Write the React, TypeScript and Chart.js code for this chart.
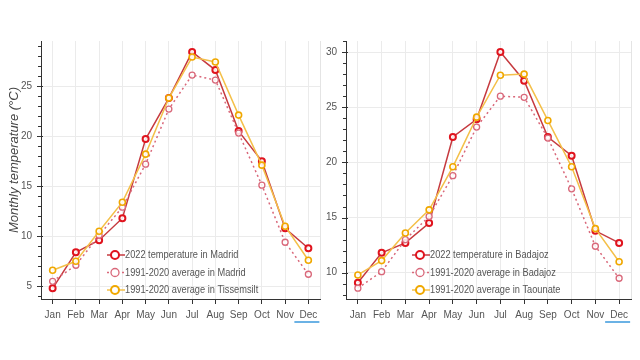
import React, { useEffect, useRef } from "react";
import { Chart, registerables } from "chart.js";
Chart.register(...registerables);

const months = ["Jan", "Feb", "Mar", "Apr", "May", "Jun", "Jul", "Aug", "Sep", "Oct", "Nov", "Dec"];

const madrid2022 = [4.8, 8.4, 9.6, 11.8, 19.7, 23.8, 28.4, 26.6, 20.5, 17.5, 10.8, 8.8];
const madridAvg = [5.5, 7.1, 10.1, 12.9, 17.2, 22.7, 26.1, 25.6, 20.3, 15.1, 9.4, 6.2];
const tissemsiltAvg = [6.6, 7.5, 10.5, 13.4, 18.2, 23.8, 27.9, 27.4, 22.1, 17.1, 11.0, 7.6];

const badajoz2022 = [9.1, 11.8, 12.7, 14.5, 22.3, 23.9, 30.0, 27.4, 22.3, 20.6, 13.8, 12.7];
const badajozAvg = [8.6, 10.1, 13.0, 15.1, 18.8, 23.2, 26.0, 25.9, 22.2, 17.6, 12.4, 9.5];
const taounateAvg = [9.8, 11.1, 13.6, 15.7, 19.6, 24.1, 27.9, 28.0, 23.8, 19.6, 14.0, 11.0];

const leftLabels = ["2022 temperature in Madrid", "1991-2020 average in Madrid", "1991-2020 average in Tissemsilt"];
const rightLabels = ["2022 temperature in Badajoz", "1991-2020 average in Badajoz", "1991-2020 average in Taounate"];
const yTitle = "Monthly temperature (°C)";

const FONT = "'Liberation Sans', Arial, Helvetica, sans-serif";

const RED_LINE = "#c63a3f";
const RED_MARK = "#e0141e";
const PINK = "#d9687a";
const YEL_LINE = "#f4c04a";
const YEL_MARK = "#f0a800";

type Opts = {
  values: number[][];
  labels: string[];
  yMin: number;
  yMax: number;
  axisWidth: number;
  padRight: number;
  legendX: number;
  showTitle: boolean;
};

function makeChart(canvas: HTMLCanvasElement, o: Opts) {
  const styles = [
    { line: RED_LINE, mark: RED_MARK, dash: [] as number[], bw: 2 },
    { line: PINK, mark: PINK, dash: [2, 3], bw: 1.3 },
    { line: YEL_LINE, mark: YEL_MARK, dash: [] as number[], bw: 1.6 },
  ];
  const decor = {
    id: "decor",
    afterDraw(chart: any) {
      const ctx = chart.ctx as CanvasRenderingContext2D;
      const ys = chart.scales.y;
      const xs = chart.scales.x;
      const ca = chart.chartArea;
      ctx.save();
      ctx.strokeStyle = "#e4e4e4";
      ctx.lineWidth = 1;
      ctx.beginPath();
      ctx.moveTo(ca.right + 0.5, ca.top);
      ctx.lineTo(ca.right + 0.5, ca.bottom);
      ctx.stroke();
      ctx.strokeStyle = "#333";
      for (let v = Math.ceil(o.yMin); v <= Math.floor(o.yMax); v++) {
        const y = Math.round(ys.getPixelForValue(v)) + 0.5;
        ctx.beginPath();
        if (v % 5 === 0) {
          ctx.moveTo(ca.left - 4, y);
          ctx.lineTo(ca.left + 2, y);
        } else {
          ctx.moveTo(ca.left - 3, y);
          ctx.lineTo(ca.left, y);
        }
        ctx.stroke();
      }
      const dx = xs.getPixelForValue(11);
      ctx.strokeStyle = "#3a98dc";
      ctx.lineWidth = 1.5;
      ctx.beginPath();
      ctx.moveTo(dx - 14, ca.bottom + 23);
      ctx.lineTo(dx + 11, ca.bottom + 23);
      ctx.stroke();
      const rows = [255, 272.5, 290];
      rows.forEach((ry, i) => {
        const s = styles[i];
        ctx.strokeStyle = s.line;
        ctx.lineWidth = 1.5;
        ctx.setLineDash(s.dash);
        ctx.beginPath();
        ctx.moveTo(o.legendX - 8, ry);
        ctx.lineTo(o.legendX + 10, ry);
        ctx.stroke();
        ctx.setLineDash([]);
        ctx.beginPath();
        ctx.arc(o.legendX, ry, 4, 0, Math.PI * 2);
        ctx.fillStyle = "#fff";
        ctx.fill();
        ctx.strokeStyle = s.mark;
        ctx.lineWidth = i === 1 ? 1.3 : 2;
        ctx.stroke();
        ctx.save();
        ctx.translate(o.legendX + 10, ry);
        ctx.scale(0.88, 1);
        ctx.fillStyle = "#555";
        ctx.font = `10.5px ${FONT}`;
        ctx.textBaseline = "middle";
        ctx.textAlign = "left";
        ctx.fillText(o.labels[i], 0, 0.5);
        ctx.restore();
      });
      if (o.showTitle) {
        ctx.save();
        ctx.translate(14, 160);
        ctx.rotate(-Math.PI / 2);
        ctx.fillStyle = "#444";
        ctx.font = `italic 13px ${FONT}`;
        ctx.textAlign = "center";
        ctx.textBaseline = "middle";
        ctx.fillText(yTitle, 0, 0);
        ctx.restore();
      }
      ctx.restore();
    },
  };

  return new Chart(canvas, {
    type: "line",
    data: {
      labels: months,
      datasets: o.values.map((vals, i) => ({
        label: o.labels[i],
        data: vals,
        borderColor: styles[i].line,
        borderWidth: 1.5,
        borderDash: styles[i].dash,
        pointStyle: "circle",
        pointRadius: 3,
        pointBorderWidth: styles[i].bw,
        pointBorderColor: styles[i].mark,
        pointBackgroundColor: "rgba(255,255,255,0.85)",
        tension: 0,
        fill: false,
        order: 3 - i,
      })),
    },
    options: {
      responsive: false,
      animation: false,
      layout: { padding: { top: 41, right: o.padRight, left: 0, bottom: 0 } },
      plugins: { legend: { display: false }, tooltip: { enabled: false } },
      scales: {
        x: {
          type: "category",
          offset: true,
          grid: { offset: false, color: "#ebebeb", tickColor: "#333", tickLength: 5, drawTicks: true },
          border: { display: true, color: "#333", width: 1 },
          ticks: { color: "#555", font: { size: 10, family: FONT }, padding: 5, maxRotation: 0, autoSkip: false },
          afterFit: (s: any) => {
            s.height = 61;
          },
        },
        y: {
          min: o.yMin,
          max: o.yMax,
          grid: {
            color: (c: any) => (c.tick && Math.abs(c.tick.value % 5) < 1e-6 ? "#ebebeb" : "rgba(0,0,0,0)"),
            drawTicks: false,
          },
          border: { display: true, color: "#333", width: 1 },
          ticks: {
            stepSize: 5,
            includeBounds: false,
            padding: 9,
            color: "#555",
            font: { size: 10, family: FONT },
            callback: (v: any) => (Math.abs(Number(v) % 5) < 1e-6 ? String(v) : ""),
          },
          afterFit: (s: any) => {
            s.width = o.axisWidth;
          },
        },
      },
    },
    plugins: [decor],
  } as any);
}

export default function App() {
  const leftRef = useRef<HTMLCanvasElement>(null);
  const rightRef = useRef<HTMLCanvasElement>(null);

  useEffect(() => {
    const c1 = makeChart(leftRef.current!, {
      values: [madrid2022, madridAvg, tissemsiltAvg],
      labels: leftLabels,
      yMin: 3.73,
      yMax: 29.5,
      axisWidth: 41,
      padRight: 3,
      legendX: 115,
      showTitle: true,
    });
    const c2 = makeChart(rightRef.current!, {
      values: [badajoz2022, badajozAvg, taounateAvg],
      labels: rightLabels,
      yMin: 7.62,
      yMax: 31.0,
      axisWidth: 26,
      padRight: 9,
      legendX: 100,
      showTitle: false,
    });
    return () => {
      c1.destroy();
      c2.destroy();
    };
  }, []);

  return (
    <div style={{ position: "fixed", left: 0, top: 0, width: 640, height: 360, background: "#fff" }}>
      <canvas ref={leftRef} width={326} height={360} style={{ position: "absolute", left: 0, top: 0, width: 326, height: 360 }} />
      <canvas ref={rightRef} width={320} height={360} style={{ position: "absolute", left: 320, top: 0, width: 320, height: 360 }} />
    </div>
  );
}
